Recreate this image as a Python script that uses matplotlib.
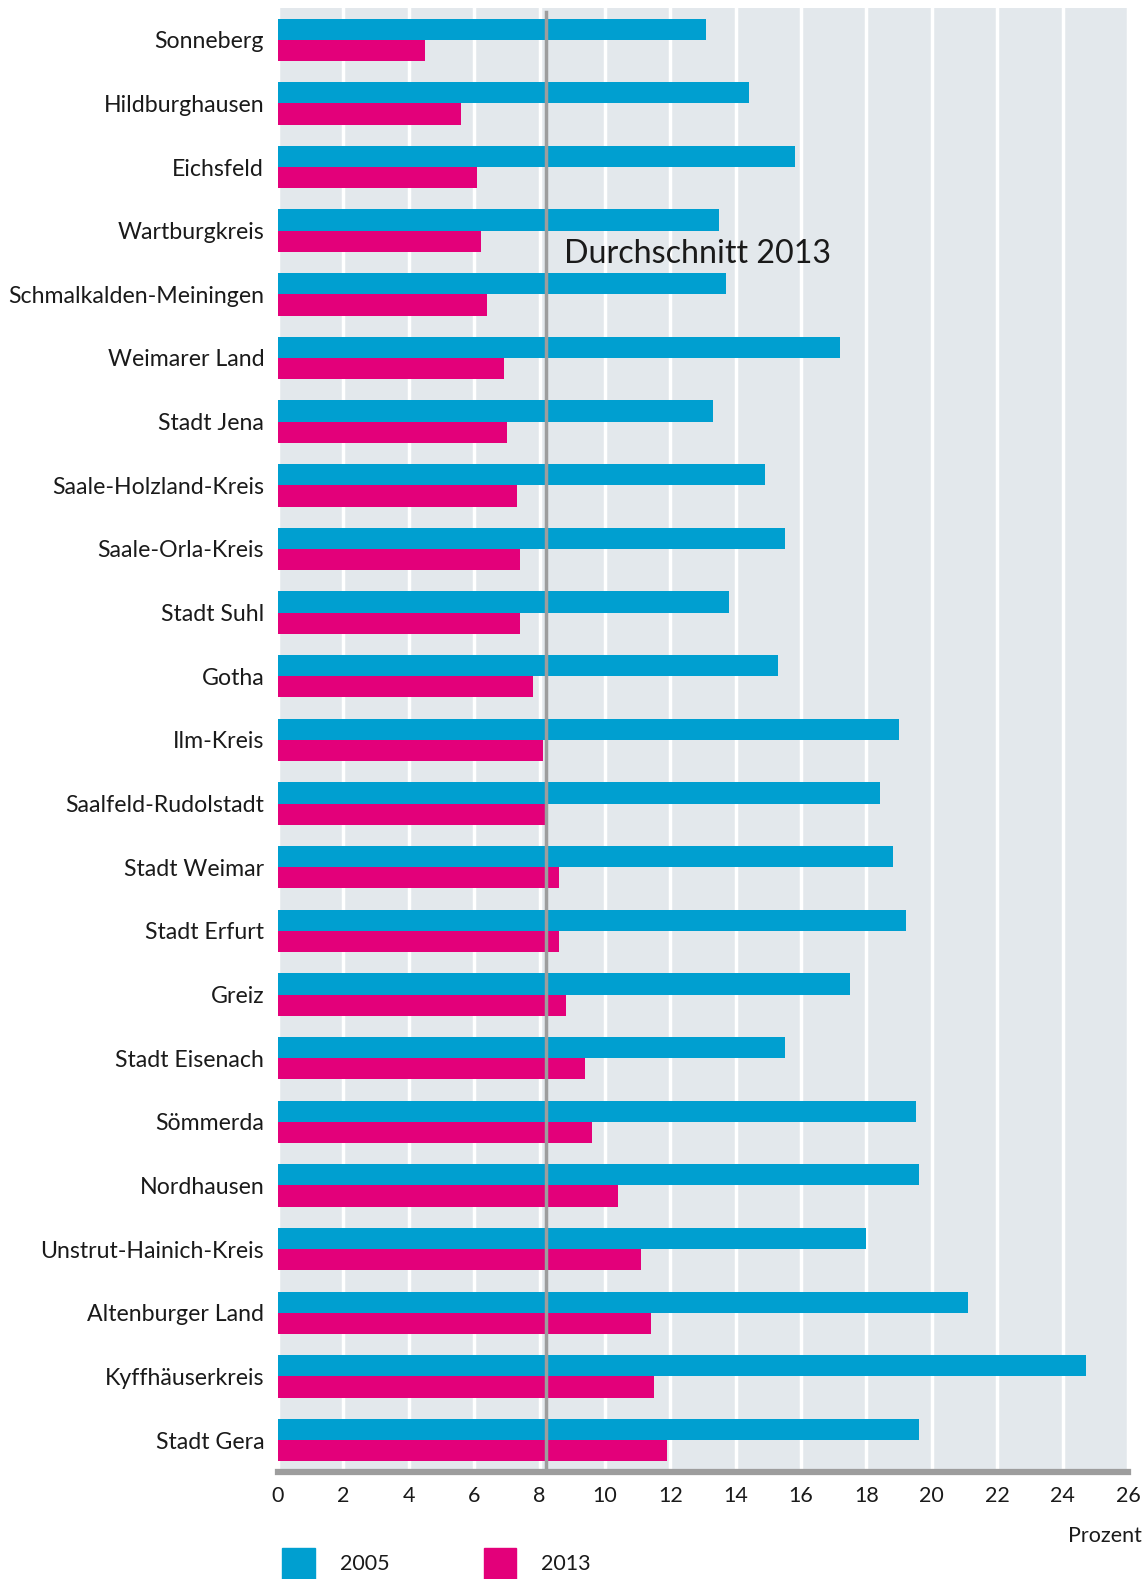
import numpy as np
import matplotlib.pyplot as plt
from matplotlib.patches import Rectangle

plt.rcParams['font.family'] = ['Lato', 'DejaVu Sans']

kreise = ["Sonneberg", "Hildburghausen", "Eichsfeld", "Wartburgkreis",
          "Schmalkalden-Meiningen", "Weimarer Land", "Stadt Jena",
          "Saale-Holzland-Kreis", "Saale-Orla-Kreis", "Stadt Suhl", "Gotha",
          "Ilm-Kreis", "Saalfeld-Rudolstadt", "Stadt Weimar", "Stadt Erfurt",
          "Greiz", "Stadt Eisenach", "Sömmerda", "Nordhausen",
          "Unstrut-Hainich-Kreis", "Altenburger Land", "Kyffhäuserkreis",
          "Stadt Gera"]
werte_2005 = [13.1, 14.4, 15.8, 13.5, 13.7, 17.2, 13.3, 14.9, 15.5, 13.8, 15.3,
              19.0, 18.4, 18.8, 19.2, 17.5, 15.5, 19.5, 19.6, 18.0, 21.1, 24.7, 19.6]
werte_2013 = [4.5, 5.6, 6.1, 6.2, 6.4, 6.9, 7.0, 7.3, 7.4, 7.4, 7.8,
              8.1, 8.2, 8.6, 8.6, 8.8, 9.4, 9.6, 10.4, 11.1, 11.4, 11.5, 11.9]
durchschnitt_2013 = 8.2
jahre = ["2005", "2013"]

blau = "#009fd0"
pink = "#e3007a"
textfarbe = "#1a1a1a"

fig = plt.figure(figsize=(11.46, 15.79), dpi=100)
ax = fig.add_axes([0.2426, 0.0678, 0.7417, 0.9272])
ax.set_facecolor("#e3e8ec")

y = np.arange(len(kreise))
h = 1 / 3
ax.barh(y - h / 2, werte_2005, height=h, color=blau, zorder=3)
ax.barh(y + h / 2, werte_2013, height=h, color=pink, zorder=3)

ax.set_xlim(0, 26)
ax.set_ylim(len(kreise) - 0.5, -0.5)
ax.set_xticks(np.arange(0, 27, 2))
ax.xaxis.grid(True, color="white", linewidth=2.5, zorder=1)
ax.set_axisbelow(True)

ax.set_yticks(y)
ax.set_yticklabels(kreise, fontsize=16.7, color=textfarbe)
ax.tick_params(axis="y", length=0, pad=10)
ax.tick_params(axis="x", length=0, pad=10, labelsize=15.5, labelcolor=textfarbe)

for s in ["top", "right", "left"]:
    ax.spines[s].set_visible(False)
ax.spines["bottom"].set_color("#9d9d9d")
ax.spines["bottom"].set_linewidth(4.5)
ax.spines["bottom"].set_zorder(5)

# Durchschnittslinie 2013
ax.axvline(durchschnitt_2013, ymin=0, ymax=0.997, color="#9d9d9d", linewidth=2.5, zorder=4)
ax.text(durchschnitt_2013 + 0.55, 3.37, "Durchschnitt 2013", fontsize=23.2,
        color=textfarbe, va="center", ha="left", zorder=6)

fig.text(0.9965, 0.0275, "Prozent", ha="right", va="center", fontsize=15.5, color=textfarbe)

# Legende unten
for i, (jahr, farbe) in enumerate(zip(jahre, [blau, pink])):
    x0 = 0.2465 + i * 0.1755
    fig.patches.append(Rectangle((x0, 0.0), 0.028, 0.0195, transform=fig.transFigure,
                                 color=farbe))
    fig.text(x0 + 0.05, 0.0095, jahr, fontsize=15.5, color=textfarbe, va="center")

fig.savefig("out.png", dpi=100)
